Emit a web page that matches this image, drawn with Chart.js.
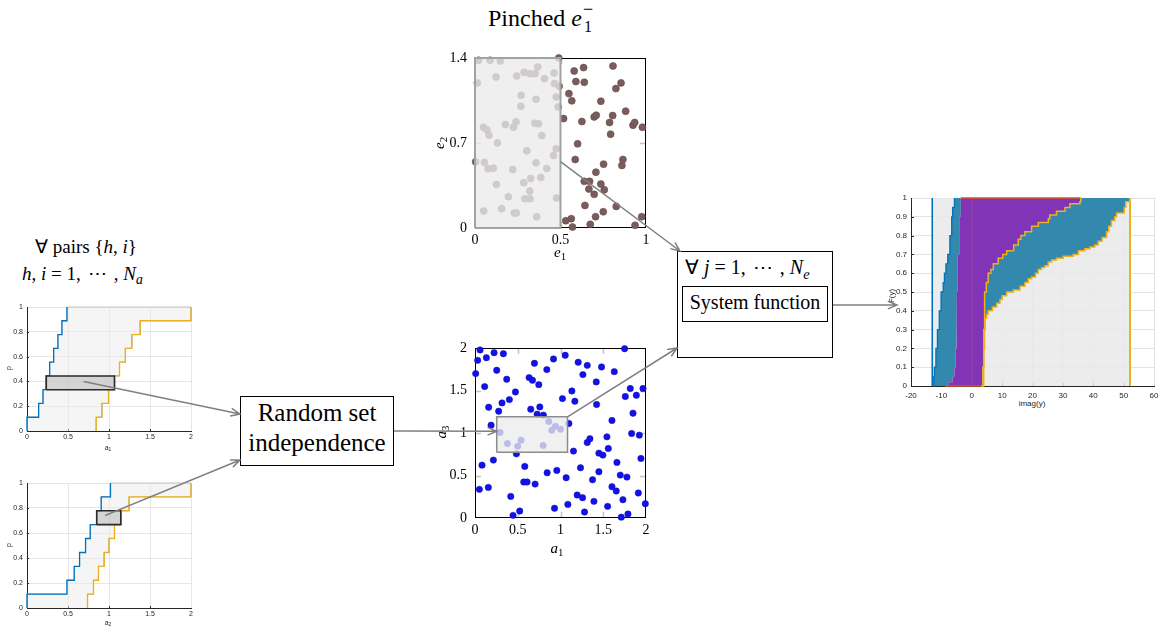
<!DOCTYPE html>
<html>
<head>
<meta charset="utf-8">
<script src="https://cdn.jsdelivr.net/npm/chart.js@4/dist/chart.umd.min.js"></script>
<style>
  html, body { margin: 0; padding: 0; background: #fff; }
  #stage { position: relative; width: 1159px; height: 626px; overflow: hidden;
           font-family: 'Liberation Serif', 'Times New Roman', serif; color: #000; }
  #stage canvas { position: absolute; }
  .t { position: absolute; white-space: nowrap; line-height: 1; }
  .c { transform: translate(-50%, -50%); }
  .r { transform: translate(-50%, -50%) rotate(-90deg); }
  .sans { font-family: 'Liberation Sans', Arial, sans-serif; color: #262626; }
  .t sub { font-size: 0.72em; vertical-align: -0.32em; line-height: 0; }
  .dots { letter-spacing: 2px; margin: 0 5px 0 7px; }
  .box { position: absolute; border: 1px solid #000; box-sizing: border-box; background: #fff; }
  #links { position: absolute; left: 0; top: 0; pointer-events: none; }
</style>
</head>
<body>
<div id="stage">
  <!-- headings and annotations -->
  <div class="t" style="left:488px;top:6px;font-size:24px;">Pinched <i>e</i><span style="position:relative;display:inline-block;width:14px;height:1px;"><span style="position:absolute;left:1px;top:-25px;font-size:18px;">−</span><span style="position:absolute;left:2px;top:-6px;font-size:16px;">1</span></span></div>

  <div class="t" style="left:35px;top:237px;font-size:19px;">∀ pairs {<i>h</i>, <i>i</i>}</div>
  <div class="t" style="left:22px;top:264px;font-size:19px;"><i>h</i>, <i>i</i> = 1,<span class="dots">⋯</span>, <i>N</i><sub><i>a</i></sub></div>

  <div class="box" style="left:240px;top:396px;width:154px;height:70px;"></div>
  <div class="t" style="left:317px;top:398px;font-size:25px;line-height:30px;text-align:center;transform:translateX(-50%);">Random set<br>independence</div>

  <div class="box" style="left:677px;top:251px;width:156px;height:107px;"></div>
  <div class="box" style="left:682px;top:286px;width:146px;height:36px;"></div>
  <div class="t" style="left:685px;top:257px;font-size:20px;">∀ <i>j</i> = 1,<span class="dots">⋯</span>, <i>N</i><sub><i>e</i></sub></div>
  <div class="t" style="left:755px;top:292px;font-size:20px;transform:translateX(-50%);">System function</div>

  <!-- axis titles -->
  <div class="t sans r" style="left:8px;top:368px;font-size:7px;">p</div>
  <div class="t sans c" style="left:108px;top:447px;font-size:7px;">a<sub>1</sub></div>
  <div class="t sans r" style="left:8px;top:545px;font-size:7px;">p</div>
  <div class="t sans c" style="left:108px;top:622px;font-size:7px;">a<sub>2</sub></div>

  <div class="t c" style="left:560px;top:252px;font-size:15px;"><i>e</i><sub>1</sub></div>
  <div class="t r" style="left:439px;top:143px;font-size:15px;"><i>e</i><sub>2</sub></div>
  <div class="t c" style="left:557px;top:548px;font-size:15px;"><i>a</i><sub>1</sub></div>
  <div class="t r" style="left:441px;top:432px;font-size:15px;"><i>a</i><sub>3</sub></div>

  <div class="t sans r" style="left:892px;top:296px;font-size:8px;">F(y)</div>
  <div class="t sans c" style="left:1032px;top:404px;font-size:8px;">imag(y)</div>
</div>

<script>
// ---------------- input p-boxes (focal elements of a1 and a2) ----------------
const stepLevels   = [0.111, 0.222, 0.333, 0.444, 0.556, 0.667, 0.778, 0.889, 1.0];
const a1LowerJumps = [0, 0.142, 0.195, 0.235, 0.276, 0.325, 0.377, 0.426, 0.487];
const a1UpperJumps = [0.844, 0.913, 0.994, 1.067, 1.128, 1.2, 1.278, 1.38, 2.0];
const a1FocalX     = [0.235, 1.067];
const a1FocalP     = [0.333, 0.444];
const a2LowerJumps = [0, 0.487, 0.576, 0.641, 0.714, 0.771, 0.85, 0.905, 1.018];
const a2UpperJumps = [0.738, 0.811, 0.872, 0.941, 1.0, 1.067, 1.144, 1.245, 2.0];
const a2FocalX     = [0.85, 1.144];
const a2FocalP     = [0.667, 0.778];
const pboxXTicks   = [0, 0.5, 1, 1.5, 2];
const pboxPTicks   = [0, 0.2, 0.4, 0.6, 0.8, 1];

// ---------------- epistemic samples (e1, e2) ----------------
const e1Samples = [0.021,0.088,0.148,0.490,0.014,0.123,0.244,0.287,0.322,0.352,0.367,0.406,0.463,0.465,0.492,
  0.270,0.268,0.357,0.475,0.486,0.049,0.070,0.082,0.178,0.225,0.240,0.350,0.371,0.391,0.004,0.055,0.076,0.107,
  0.131,0.221,0.303,0.459,0.475,0.357,0.420,0.125,0.285,0.326,0.320,0.291,0.322,0.385,0.195,0.051,0.156,0.229,
  0.242,0.361,0.477,
  0.580,0.635,0.807,0.590,0.639,0.824,0.854,0.549,0.566,0.736,0.881,0.518,0.625,0.697,0.709,0.787,0.805,0.793,
  0.924,0.934,0.979,0.600,0.586,0.752,0.707,0.865,0.859,0.639,0.670,0.666,0.697,0.736,0.756,0.750,0.643,0.826,
  0.531,0.563,0.570,0.674,0.705,0.936,0.975];
const e2Samples = [1.381,1.381,1.375,1.400,1.195,1.244,1.252,1.282,1.271,1.271,1.326,1.230,1.277,1.189,1.167,
  1.093,1.003,1.060,1.079,0.997,0.830,0.808,0.764,0.852,0.830,0.874,0.863,0.858,0.762,0.545,0.540,0.488,0.493,
  0.701,0.482,0.636,0.597,0.652,0.537,0.490,0.359,0.373,0.408,0.304,0.241,0.241,0.416,0.258,0.140,0.159,0.123,
  0.123,0.093,0.247,
  1.293,1.321,1.334,1.206,1.200,1.148,1.195,1.107,1.047,1.044,0.962,0.901,0.877,0.915,0.929,0.869,0.926,0.773,
  0.847,0.869,0.830,0.693,0.564,0.526,0.460,0.564,0.515,0.384,0.384,0.321,0.277,0.362,0.315,0.134,0.186,0.178,
  0.060,0.077,0.008,0.030,0.093,0.022,0.093];
const e1PinchedRange = [0, 0.5];
const e1Ticks = [0, 0.5, 1];
const e2Ticks = [0, 0.7, 1.4];

// ---------------- joint samples (a1, a3) ----------------
const a1Samples = [0.059,0.031,0.133,0.223,0.332,0.008,0.254,0.371,0.113,0.473,0.402,0.316,0.160,0.277,0.188,
  0.652,0.633,0.672,0.695,0.746,0.758,0.727,0.840,0.918,1.055,1.207,1.313,1.262,1.480,1.629,1.750,1.816,1.758,
  1.887,1.965,1.848,1.832,1.922,1.602,1.543,1.449,1.496,1.559,1.660,1.941,1.699,1.777,1.602,1.652,1.910,1.730,
  1.992,1.711,1.789,1.313,1.344,1.152,1.418,1.422,1.168,1.133,1.023,1.098,1.066,0.957,0.844,1.086,0.930,1.234,
  1.195,1.258,1.281,1.391,1.449,1.375,1.551,0.484,0.215,0.082,0.582,0.570,0.609,0.703,0.418,0.523,0.445,0.051,
  0.156,0.293,0.379,0.500,0.539,0.797,0.863,0.800,0.898,0.941,1.000];
const a3Samples = [1.977,1.855,1.886,1.945,1.933,1.699,1.738,1.632,1.546,1.483,1.393,1.354,1.303,1.256,1.092,
  1.280,1.652,1.620,1.820,1.569,1.307,1.221,1.746,1.871,1.914,1.832,1.796,1.687,1.777,1.722,1.992,1.523,1.429,
  1.444,1.523,1.233,0.994,0.975,1.147,0.955,0.763,0.740,0.818,0.654,0.701,0.505,0.481,0.368,0.317,0.294,0.215,
  0.168,0.010,0.047,0.888,0.932,0.787,1.601,1.335,1.374,1.495,1.405,1.112,0.474,0.560,0.532,0.160,0.114,0.591,
  0.270,0.239,0.070,0.196,0.544,0.450,0.137,0.755,0.681,0.622,0.607,0.423,0.423,0.399,0.254,0.082,0.031,0.337,
  0.360,1.006,0.877,0.845,0.916,0.853,1.135,1.210,1.033,1.080,1.045];
const a1FocalRange = [0.254, 1.082];
const a3FocalRange = [0.775, 1.19];
const aTicks = [0, 0.5, 1, 1.5, 2];

// ---------------- output p-box F(y) for imag(y) ----------------
const outerBounds  = [-13.0, 52.1];
const blueEdgeP    = [0, 0.05, 0.1, 0.2, 0.3, 0.4, 0.5, 0.55, 0.6, 0.65, 0.7, 0.8, 0.9, 0.95, 1];
const blueEdgeX    = [-12.8, -12.5, -12.3, -11.8, -11.3, -10.7, -10.1, -9.4, -9.0, -8.5, -7.9, -7.2, -6.6, -6.3, -5.7];
const purpleLeftP  = [0, 0.02, 0.05, 0.1, 0.2, 0.3, 0.5, 0.7, 0.9, 1];
const purpleLeftX  = [-8.8, -7.7, -6.3, -5.7, -5.3, -5.1, -4.9, -4.6, -4.1, -3.6];
const purpleRightP = [0, 0.02, 0.1, 0.2, 0.3, 0.4, 0.5, 0.55, 0.6, 0.62, 0.65, 0.68, 0.7, 0.72, 0.75, 0.78, 0.8,
                      0.82, 0.85, 0.87, 0.89, 0.91, 0.93, 0.95, 0.97, 0.98, 1];
const purpleRightX = [3.0, 3.5, 3.7, 3.9, 4.0, 4.1, 4.3, 4.8, 5.4, 6.3, 7.1, 8.7, 10.2, 11.5, 13.8, 15.3, 16.2,
                      17.5, 19.7, 21.9, 25.2, 25.7, 27.9, 30.7, 32.3, 35.6, 35.9];
const tealRightP   = [0, 0.1, 0.2, 0.3, 0.36, 0.38, 0.4, 0.42, 0.44, 0.46, 0.48, 0.5, 0.51, 0.53, 0.55, 0.57, 0.58,
                      0.6, 0.62, 0.63, 0.64, 0.66, 0.67, 0.68, 0.69, 0.7, 0.72, 0.73, 0.74, 0.75, 0.77, 0.79, 0.82,
                      0.85, 0.88, 0.9, 0.92, 0.95, 0.98, 1];
const tealRightX   = [3.4, 3.8, 4.0, 4.2, 4.4, 4.9, 5.4, 6.8, 8.2, 9.3, 10.0, 11.5, 13.7, 15.9, 17.5, 18.6, 19.7,
                      21.0, 21.9, 23.0, 24.1, 25.2, 26.3, 27.9, 30.1, 33.4, 35.1, 37.2, 38.9, 40.5, 41.6, 42.9, 44.4,
                      45.1, 46.0, 47.1, 47.7, 50.2, 50.7, 52.1];
const imagTicks = [-20, -10, 0, 10, 20, 30, 40, 50, 60];
const fTicks    = [0, 0.1, 0.2, 0.3, 0.4, 0.5, 0.6, 0.7, 0.8, 0.9, 1];

// ---------------- helpers ----------------
const stage = document.getElementById('stage');
Chart.defaults.font.family = "'Liberation Sans', Arial, sans-serif";
Chart.defaults.animation = false;
Chart.defaults.events = [];
Chart.defaults.plugins.legend.display = false;
Chart.defaults.plugins.tooltip.enabled = false;

// staircase (empirical CDF style): hold level, then jump at next abscissa
function stairs(xs, ps) {
  const pts = [{x: xs[0], y: ps[0]}];
  for (let i = 1; i < xs.length; i++) {
    pts.push({x: xs[i], y: ps[i - 1]});
    pts.push({x: xs[i], y: ps[i]});
  }
  return pts;
}
function rectPts(xr, yr) {
  return [{x: xr[0], y: yr[0]}, {x: xr[1], y: yr[0]}, {x: xr[1], y: yr[1]}, {x: xr[0], y: yr[1]}, {x: xr[0], y: yr[0]}];
}
function zip(xs, ys) { return xs.map((x, i) => ({x, y: ys[i]})); }
function poly(pts, fill, extra) {
  return Object.assign({data: pts, showLine: true, fill: 'shape', backgroundColor: fill,
    borderColor: 'rgba(0,0,0,0)', borderWidth: 0, pointRadius: 0, tension: 0, clip: false}, extra || {});
}
function line(pts, color, w) {
  return {data: pts, showLine: true, fill: false, borderColor: color, borderWidth: w,
    pointRadius: 0, tension: 0, clip: false};
}
function axis(min, max, vals, o) {
  return {
    type: 'linear', min, max,
    afterBuildTicks: s => { s.ticks = vals.map(v => ({value: v})); },
    ticks: {font: {size: o.size, family: o.family}, color: o.color, padding: o.pad,
            maxRotation: 0, autoSkip: false, callback: v => String(v)},
    grid: {display: !!o.grid, color: o.grid || '#fff', drawTicks: false, lineWidth: 1},
    border: {display: !!o.border, color: o.border || '#000', width: 1}
  };
}

// box frame and short inward tick marks
const framePlugin = {
  id: 'frame',
  beforeDatasetsDraw(chart, args, o) {
    const a = chart.chartArea, ctx = chart.ctx;
    ctx.save();
    if (o.ticks) {
      ctx.strokeStyle = o.tickColor; ctx.lineWidth = o.tickWidth;
      const xs = chart.scales.x, ys = chart.scales.y;
      ctx.beginPath();
      xs.ticks.forEach(t => {
        if (t.value <= xs.min || t.value >= xs.max) return;
        const px = Math.round(xs.getPixelForValue(t.value)) + 0.5;
        if (o.ticks.includes('bottom')) { ctx.moveTo(px, a.bottom); ctx.lineTo(px, a.bottom - o.tickLen); }
        if (o.ticks.includes('top')) { ctx.moveTo(px, a.top); ctx.lineTo(px, a.top + o.tickLen); }
      });
      ys.ticks.forEach(t => {
        if (t.value <= ys.min || t.value >= ys.max) return;
        const py = Math.round(ys.getPixelForValue(t.value)) + 0.5;
        if (o.ticks.includes('left')) { ctx.moveTo(a.left, py); ctx.lineTo(a.left + o.tickLen, py); }
        if (o.ticks.includes('right')) { ctx.moveTo(a.right, py); ctx.lineTo(a.right - o.tickLen, py); }
      });
      ctx.stroke();
    }
    if (o.box) {
      ctx.strokeStyle = o.box; ctx.lineWidth = 1;
      ctx.strokeRect(a.left + 0.5, a.top + 0.5, a.right - a.left - 1, a.bottom - a.top - 1);
    }
    ctx.restore();
  }
};

function placeChart(rect, m, datasets, scales, frame) {
  const c = document.createElement('canvas');
  const w = rect[2] - rect[0] + m.l + m.r, h = rect[3] - rect[1] + m.t + m.b;
  c.width = w; c.height = h;
  c.style.left = (rect[0] - m.l) + 'px'; c.style.top = (rect[1] - m.t) + 'px';
  c.style.width = w + 'px'; c.style.height = h + 'px';
  stage.insertBefore(c, stage.firstChild);
  const zero = s => { s.paddingTop = s.paddingBottom = s.paddingLeft = s.paddingRight = 0; };
  scales.x.afterFit = s => { s.height = m.b; zero(s); };
  scales.y.afterFit = s => { s.width = m.l; zero(s); };
  const chart = new Chart(c, {
    type: 'line',
    data: {datasets},
    options: {
      responsive: false, devicePixelRatio: 1, parsing: true,
      layout: {padding: {top: m.t, right: m.r, left: 0, bottom: 0}},
      scales,
      plugins: {frame: frame || {}}
    },
    plugins: [framePlugin]
  });
  chart.offset = [rect[0] - m.l, rect[1] - m.t];
  return chart;
}
function pageXY(chart, x, y) {
  return [chart.offset[0] + chart.scales.x.getPixelForValue(x), chart.offset[1] + chart.scales.y.getPixelForValue(y)];
}

// ---------------- input p-box panels ----------------
function pboxDatasets(lowJ, upJ, fx, fp) {
  const lower = stairs([lowJ[0]].concat(lowJ), [0].concat(stepLevels));
  const upper = stairs([upJ[0]].concat(upJ), [0].concat(stepLevels));
  return [
    poly(rectPts(fx, fp), 'rgba(188,190,188,0.6)', {borderColor: '#2a2a2a', borderWidth: 1.6}),
    line(lower, '#0072bd', 1.3),
    line(upper, '#edb120', 1.3),
    poly(lower.concat(upper.slice().reverse()), 'rgba(236,236,236,0.5)', {borderColor: '#c4c4c4', borderWidth: 1})
  ];
}
const smallAxis = {size: 7, color: '#262626', grid: '#e6e6e6', border: '#262626'};
const pboxMargins = {l: 27, r: 6, t: 7, b: 12};
const pboxFrame = {ticks: ['left', 'bottom'], tickLen: 2, tickColor: '#262626', tickWidth: 1};

const chartA1 = placeChart([27, 307, 191, 431], pboxMargins,
  pboxDatasets(a1LowerJumps, a1UpperJumps, a1FocalX, a1FocalP),
  {x: axis(0, 2, pboxXTicks, Object.assign({pad: 2}, smallAxis)),
   y: axis(0, 1, pboxPTicks, Object.assign({pad: 4}, smallAxis))}, pboxFrame);

const chartA2 = placeChart([27, 483, 191, 608], pboxMargins,
  pboxDatasets(a2LowerJumps, a2UpperJumps, a2FocalX, a2FocalP),
  {x: axis(0, 2, pboxXTicks, Object.assign({pad: 2}, smallAxis)),
   y: axis(0, 1, pboxPTicks, Object.assign({pad: 4}, smallAxis))}, pboxFrame);

// ---------------- sample panels ----------------
const serifAxis = {size: 14, family: "'Liberation Serif', 'Times New Roman', serif", color: '#000'};
const sampleMargins = {l: 40, r: 12, t: 10, b: 24};
const sampleFrame = {box: '#000', ticks: ['left', 'right', 'top', 'bottom'], tickLen: 6, tickColor: '#c4c4c4', tickWidth: 1.5};

const chartE = placeChart([475, 58, 646, 228], sampleMargins, [
    poly(rectPts(e1PinchedRange, [e2Ticks[0], e2Ticks[e2Ticks.length - 1]]), 'rgba(235,235,235,0.78)',
         {borderColor: '#a2a2a2', borderWidth: 2}),
    {data: zip(e1Samples, e2Samples), showLine: false, pointRadius: 3.5, pointBorderWidth: 0.6,
     pointBackgroundColor: '#7b5c5c', pointBorderColor: '#654a4a', clip: false}
  ],
  {x: axis(0, 1, e1Ticks, Object.assign({pad: 4}, serifAxis)),
   y: axis(0, 1.4, e2Ticks, Object.assign({pad: 8}, serifAxis))}, sampleFrame);

const chartA = placeChart([475, 348, 646, 518], sampleMargins, [
    poly(rectPts(a1FocalRange, a3FocalRange), 'rgba(236,236,236,0.78)', {borderColor: '#8c8c8c', borderWidth: 1.5}),
    {data: zip(a1Samples, a3Samples), showLine: false, pointRadius: 3.2, pointBorderWidth: 0.5,
     pointBackgroundColor: '#1212e6', pointBorderColor: '#0c0cc8', clip: false}
  ],
  {x: axis(0, 2, aTicks, Object.assign({pad: 4}, serifAxis)),
   y: axis(0, 2, aTicks, Object.assign({pad: 8}, serifAxis))}, sampleFrame);

// ---------------- output p-box panel ----------------
const blueEdge   = stairs(blueEdgeX, blueEdgeP);
const purpleLeft = stairs(purpleLeftX, purpleLeftP);
const purpleRight = stairs(purpleRightX, purpleRightP);
const tealRight  = stairs(tealRightX, tealRightP);
const lastOf = a => a[a.length - 1];

const chartY = placeChart([911, 198, 1154, 386], {l: 22, r: 5, t: 6, b: 12}, [
    line([{x: outerBounds[0], y: 0}, {x: outerBounds[0], y: 1}], '#0072bd', 1.6),
    line([{x: outerBounds[1], y: 0}, {x: outerBounds[1], y: 1}], '#edb120', 2),
    line(tealRight, '#edb120', 1.5),
    line(purpleRight, '#edb120', 1.5),
    line(blueEdge, '#0072bd', 1.3),
    line([{x: lastOf(purpleLeftX), y: 1}, {x: lastOf(purpleRightX), y: 1}], '#d95319', 1.6),
    line([{x: purpleLeftX[0], y: 0}, {x: purpleRightX[0], y: 0}], '#d95319', 1.6),
    line([{x: 0, y: 0}, {x: 0, y: 1}], 'rgba(215,90,70,0.45)', 1),
    poly(purpleLeft.concat(purpleRight.slice().reverse()), '#8234b6'),
    poly(purpleRight.concat(tealRight.slice().reverse()), '#3289ad'),
    poly(blueEdge.concat(purpleLeft.slice().reverse()), '#3289ad'),
    poly(rectPts(outerBounds, [0, 1]), 'rgba(232,233,232,0.85)')
  ],
  {x: axis(-20, 60, imagTicks, {size: 8, color: '#262626', pad: 5, grid: '#e2e2e2', border: '#262626'}),
   y: axis(0, 1, fTicks, {size: 8, color: '#262626', pad: 4, grid: '#e2e2e2', border: '#262626'})},
  {ticks: ['left', 'bottom'], tickLen: 3, tickColor: '#262626', tickWidth: 1});

// ---------------- connecting arrows ----------------
const NS = 'http://www.w3.org/2000/svg';
const svg = document.createElementNS(NS, 'svg');
svg.setAttribute('id', 'links'); svg.setAttribute('width', 1159); svg.setAttribute('height', 626);
stage.appendChild(svg);
function arrow(p, q) {
  const ang = Math.atan2(q[1] - p[1], q[0] - p[0]), L = 10, s = 0.4;
  const h1 = [q[0] - L * Math.cos(ang - s), q[1] - L * Math.sin(ang - s)];
  const h2 = [q[0] - L * Math.cos(ang + s), q[1] - L * Math.sin(ang + s)];
  const path = document.createElementNS(NS, 'path');
  path.setAttribute('d', `M${p[0]},${p[1]}L${q[0]},${q[1]}M${h1[0]},${h1[1]}L${q[0]},${q[1]}L${h2[0]},${h2[1]}`);
  path.setAttribute('stroke', '#808080'); path.setAttribute('stroke-width', '1.5'); path.setAttribute('fill', 'none');
  svg.appendChild(path);
}
arrow(pageXY(chartA1, 0.69, 0.40), [240, 414]);
arrow(pageXY(chartA2, 0.953, 0.74), [240, 460]);
arrow([394, 431], pageXY(chartA, a1FocalRange[0], 1.02));
arrow(pageXY(chartA, a1FocalRange[1], a3FocalRange[1]), [677, 348]);
arrow(pageXY(chartE, e1PinchedRange[1], 0.546), [680, 251]);
arrow([833, 305], [897, 305]);
</script>
</body>
</html>
